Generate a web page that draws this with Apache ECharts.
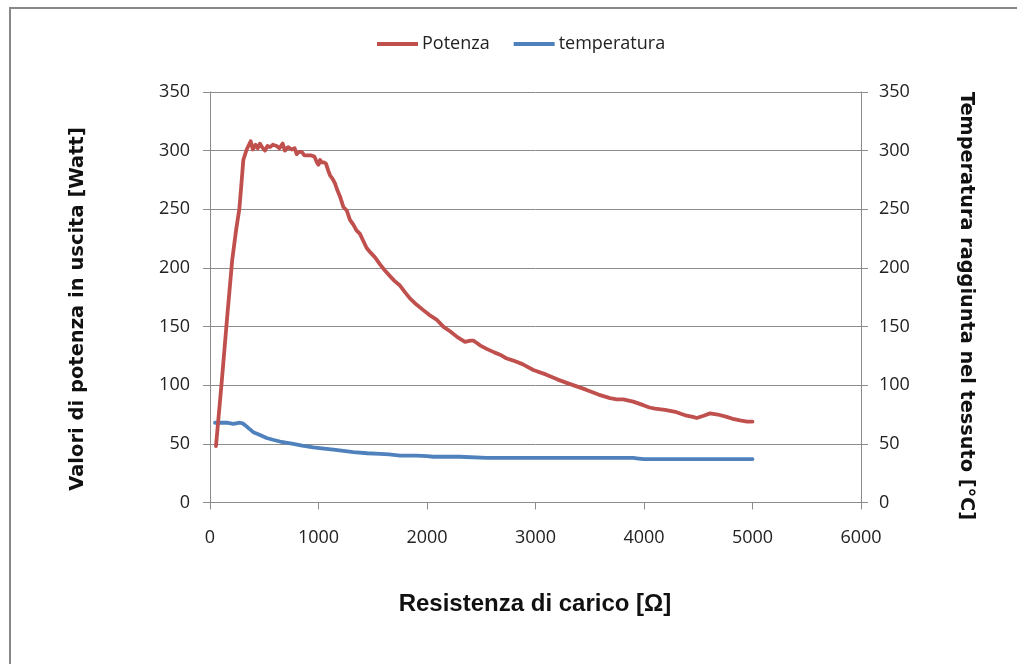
<!DOCTYPE html>
<html>
<head>
<meta charset="utf-8">
<script src="https://cdn.jsdelivr.net/npm/echarts@6/dist/echarts.min.js"></script>
<style>
  html, body { margin: 0; padding: 0; background: #fff; }
  #chart { width: 1017px; height: 664px; }
</style>
</head>
<body>
<div id="chart"></div>
<script>
// Load resistance [Ω] and output power [W]
var resistenzaPotenza = [55, 110, 160, 205, 240, 270, 290, 307, 338, 375, 395, 420, 440, 460, 480, 507, 530, 553, 580, 614, 640, 670, 690, 720, 753, 780, 799, 820, 845, 870, 897, 930, 962, 985, 999, 1015, 1029, 1050, 1069, 1090, 1106, 1130, 1152, 1175, 1198, 1229, 1260, 1290, 1321, 1350, 1382, 1413, 1444, 1480, 1521, 1567, 1610, 1659, 1700, 1751, 1800, 1843, 1900, 1966, 2020, 2088, 2150, 2212, 2280, 2350, 2400, 2427, 2460, 2488, 2550, 2620, 2673, 2730, 2795, 2880, 2980, 3100, 3200, 3287, 3380, 3471, 3580, 3687, 3750, 3809, 3900, 3994, 4050, 4101, 4194, 4300, 4393, 4450, 4485, 4550, 4608, 4680, 4762, 4830, 4885, 4950, 5000];
var potenza = [48, 105, 160, 207, 232, 250, 272, 292, 301, 308, 301, 305, 302, 306, 303, 300, 304, 303, 305, 304, 302, 306, 300, 303, 301, 302, 297, 299, 299, 296, 296, 296, 295, 290, 288, 292, 290, 290, 289, 283, 279, 276, 272, 266, 261, 252, 249, 241, 237, 232, 229, 223, 217, 213, 209, 203, 198, 193, 189, 185, 179, 174, 169, 164, 160, 156, 150, 146, 141, 137, 138, 138, 136, 134, 131, 128, 126, 123, 121, 118, 113, 109, 105, 102, 99, 96, 92, 89, 88, 88, 86, 83, 81, 80, 79, 77, 74, 73, 72, 74, 76, 75, 73, 71, 70, 69, 69];

// Load resistance [Ω] and tissue temperature [°C]
var resistenzaTemperatura = [46, 100, 154, 215, 276, 300, 323, 360, 399, 450, 522, 580, 645, 700, 768, 850, 952, 1050, 1137, 1230, 1321, 1450, 1567, 1650, 1751, 1900, 2000, 2058, 2300, 2550, 2857, 3200, 3600, 3900, 3950, 4000, 4500, 5000];
var temperatura = [68, 68, 68, 67, 68, 67.5, 66, 63, 60, 58, 55, 53.5, 52, 51, 50, 48.5, 47, 46, 45, 44, 43, 42, 41.5, 41, 40, 40, 39.5, 39, 39, 38, 38, 38, 38, 38, 37.5, 37, 37, 37];

var xTicks = [0, 1000, 2000, 3000, 4000, 5000, 6000];
var yTicks = [0, 50, 100, 150, 200, 250, 300, 350];

function pairs(xs, ys) {
  return xs.map(function (x, i) { return [x, ys[i]]; });
}
function plain(v) { return String(v); }

var tickFont = { fontFamily: 'Open Sans', fontSize: 18, color: '#222', formatter: plain };
var gridColor = '#8c8c8c';

var chart = echarts.init(document.getElementById('chart'), null, { renderer: 'canvas' });
chart.setOption({
  animation: false,
  backgroundColor: '#fff',
  grid: { left: 210, right: 156, top: 92, bottom: 161.5, containLabel: false },
  legend: {
    left: 372,
    top: 30,
    itemWidth: 41,
    itemHeight: 4,
    itemGap: 24,
    icon: 'rect',
    textStyle: { fontFamily: 'Open Sans', fontSize: 18, color: '#222', padding: [0, 0, 0, -1] },
    data: ['Potenza', 'temperatura']
  },
  xAxis: {
    type: 'value',
    min: xTicks[0],
    max: xTicks[xTicks.length - 1],
    interval: 1000,
    axisLine: { show: true, lineStyle: { color: gridColor, width: 1 } },
    axisTick: { show: true, inside: false, length: 7, lineStyle: { color: gridColor } },
    axisLabel: Object.assign({ margin: 26 }, tickFont),
    splitLine: { show: false }
  },
  yAxis: [
    {
      type: 'value',
      min: yTicks[0],
      max: yTicks[yTicks.length - 1],
      interval: 50,
      position: 'left',
      axisLine: { show: true, lineStyle: { color: gridColor, width: 1 } },
      axisTick: { show: true, inside: false, length: 7, lineStyle: { color: gridColor } },
      axisLabel: Object.assign({ margin: 20 }, tickFont),
      splitLine: { show: true, lineStyle: { color: gridColor, width: 1 } }
    },
    {
      type: 'value',
      min: yTicks[0],
      max: yTicks[yTicks.length - 1],
      interval: 50,
      position: 'right',
      axisLine: { show: true, lineStyle: { color: gridColor, width: 1 } },
      axisTick: { show: true, inside: false, length: 7, lineStyle: { color: gridColor } },
      axisLabel: Object.assign({ margin: 18 }, tickFont),
      splitLine: { show: false }
    }
  ],
  series: [
    {
      name: 'Potenza',
      type: 'line',
      yAxisIndex: 0,
      data: pairs(resistenzaPotenza, potenza),
      showSymbol: false,
      symbol: 'none',
      lineStyle: { color: '#C0504D', width: 3.8, join: 'round', cap: 'round' },
      itemStyle: { color: '#C0504D' },
      z: 3
    },
    {
      name: 'temperatura',
      type: 'line',
      yAxisIndex: 1,
      data: pairs(resistenzaTemperatura, temperatura),
      showSymbol: false,
      symbol: 'none',
      lineStyle: { color: '#4F81BD', width: 3.8, join: 'round', cap: 'round' },
      itemStyle: { color: '#4F81BD' },
      z: 2
    }
  ],
  graphic: [
    {
      type: 'rect',
      shape: { x: 10, y: 8, width: 1100, height: 700 },
      style: { fill: 'none', stroke: '#888', lineWidth: 2 },
      silent: true
    },
    {
      type: 'text',
      x: 78, y: 309,
      rotation: Math.PI / 2,
      style: {
        text: 'Valori di potenza in uscita [Watt]',
        fontFamily: 'DejaVu Sans', fontWeight: 'bold', fontSize: 19.5,
        fill: '#111', textAlign: 'center', textVerticalAlign: 'middle'
      }
    },
    {
      type: 'text',
      x: 966, y: 306,
      rotation: -Math.PI / 2,
      style: {
        text: 'Temperatura raggiunta nel tessuto [°C]',
        fontFamily: 'DejaVu Sans', fontWeight: 'bold', fontSize: 19.3,
        fill: '#111', textAlign: 'center', textVerticalAlign: 'middle'
      }
    },
    {
      type: 'text',
      x: 535, y: 604,
      style: {
        text: 'Resistenza di carico [Ω]',
        fontFamily: 'Liberation Sans', fontWeight: 'bold', fontSize: 24,
        fill: '#111', textAlign: 'center', textVerticalAlign: 'middle'
      }
    }
  ]
});
</script>
</body>
</html>
